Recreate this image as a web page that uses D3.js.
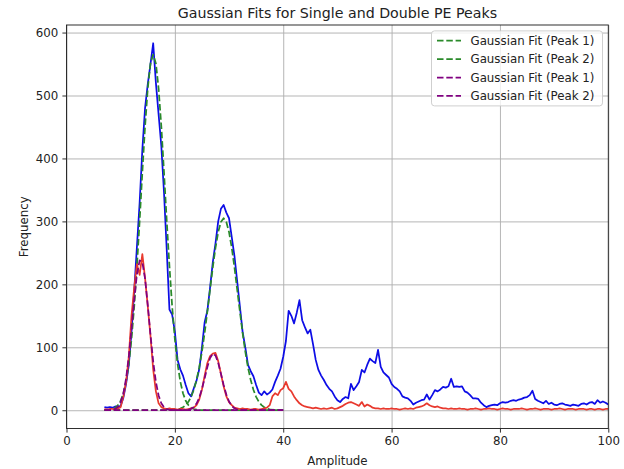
<!DOCTYPE html>
<html>
<head>
<meta charset="utf-8">
<script src="https://cdn.jsdelivr.net/npm/d3@7"></script>
<style>
  body { margin: 0; background: #fff; }
  text { font-family: "DejaVu Sans", sans-serif; fill: #222; }
</style>
</head>
<body>
<svg id="chart" width="624" height="469"></svg>
<script>
// histogram bins: amplitude 7 .. 100, bin width 0.5
var binStart = 7;
var binStep = 0.5;

// all events (blue)
var countsAll = [
  5,4,5,4,6,5,7,20,42,72,            // 7.0
  125,190,260,330,414,480,518,550,583,520,   // 12.0
  470,420,345,255,160,152,125,80,65,55,      // 17.0
  40,27,22,35,47,65,100,140,158,195,         // 22.0
  235,265,300,320,326,314,305,275,245,205,   // 27.0
  165,125,100,72,62,54,40,28,24,30,          // 32.0
  25,28,33,45,55,66,85,110,158,150,          // 37.0
  138,155,175,143,132,122,128,105,80,64,     // 42.0
  55,48,40,34,30,22,16,13,18,21,             // 47.0
  19,42,32,38,45,64,60,72,82,78,             // 52.0
  75,96,69,60,56,52,42,37,34,30,             // 57.0
  22,20,19,15,9,12,14,16,17,25,              // 62.0
  17,24,32,30,33,37,36,38,50,37,             // 67.0
  38,37,38,30,28,24,19,19,18,12,             // 72.0
  8,5,7,8,9,8,11,13,12,13,                   // 77.0
  15,16,15,17,18,20,21,24,31,18,             // 82.0
  15,13,11,15,10,12,9,8,10,11,               // 87.0
  9,8,7,9,8,7,10,11,9,12,                    // 92.0
  13,10,16,12,14,12,9                        // 97.0
];

// selected events (red)
var countsSel = [
  2,1,2,2,1,3,5,22,45,85,
  150,195,232,215,248,210,165,118,65,30,
  11,5,3,2,3,2,2,1,2,2,
  1,2,3,4,8,17,33,55,75,86,
  90,91,78,58,38,22,13,8,4,3,
  2,3,2,2,1,2,2,1,2,3,
  4,8,22,27,24,32,35,45,34,30,
  22,16,11,8,6,5,4,3,4,3,
  2,3,2,3,4,2,3,5,7,10,
  12,13,11,9,7,13,6,9,7,4,
  3,3,2,3,2,2,3,2,2,1,
  2,3,2,3,2,4,5,6,8,11,
  8,6,5,6,4,3,3,2,3,2,
  2,3,2,2,1,2,2,3,2,1,
  2,2,3,2,2,1,2,3,2,2,
  1,2,2,2,3,2,1,2,2,3,
  2,1,2,2,2,1,2,2,3,2,
  1,2,2,2,1,2,2,2,1,2,
  2,1,2,2,1,2,2
];

// fitted curves, sampled 7 .. 40 every 0.5
var fitStart = 7;
var fitStep = 0.5;

var fitAllPeak1 = [
  0.2,0.4,0.9,2.0,4.1,8.1,15.1,27,45.8,73.8,
  113,165,229,301,378,451,511,551,565,551,
  511,451,378,301,229,165,113,73.8,45.8,27,
  15.1,8.1,4.1,2.0,0.9,0.4,0.2,0.1,0,0,
  0,0,0,0,0,0,0,0,0,0,
  0,0,0,0,0,0,0,0,0,0,
  0,0,0,0,0,0,0
];
var fitAllPeak2 = [
  0,0,0,0,0,0,0,0,0,0,
  0,0,0,0,0,0,0,0,0,0,
  0,0,0,0.1,0.2,0.4,0.8,1.5,2.7,4.8,
  8.1,13.4,21.3,32.5,48,68,93,123,157,192,
  227,258,283,299,305,299,283,258,227,192,
  157,123,93,68,48,32.5,21.3,13.4,8.1,4.8,
  2.7,1.5,0.8,0.4,0.2,0.1,0
];
var fitSelPeak1 = [
  0,0.1,0.2,0.8,2.1,5.5,12.9,26.9,50.6,85.4,
  129,176,216,238,235,209,167,120,77.5,45,
  23.4,11,4.6,1.8,0.6,0.2,0,0,0,0,
  0,0,0,0,0,0,0,0,0,0,
  0,0,0,0,0,0,0,0,0,0,
  0,0,0,0,0,0,0,0,0,0,
  0,0,0,0,0,0,0
];
var fitSelPeak2 = [
  0,0,0,0,0,0,0,0,0,0,
  0,0,0,0,0,0,0,0,0,0,
  0,0,0,0,0,0,0,0,0,0,
  0.3,0.8,2.1,5.0,10.6,20,33.8,50.9,68.8,83.1,
  89.8,86.9,75.2,58.2,40.3,25,13.9,6.9,3.1,1.2,
  0.4,0.1,0,0,0,0,0,0,0,0,
  0,0,0,0,0,0,0
];

var xTicks = [0, 20, 40, 60, 80, 100];
var yTicks = [0, 100, 200, 300, 400, 500, 600];
var legendLabels = ["Gaussian Fit (Peak 1)", "Gaussian Fit (Peak 2)", "Gaussian Fit (Peak 1)", "Gaussian Fit (Peak 2)"];

var svg = d3.select("#chart");
var pLeft = 66.5, pRight = 608.3, pTop = 25, pBottom = 428.5;

var x = d3.scaleLinear().domain([0, 100]).range([pLeft, pRight]);
var y = d3.scaleLinear().domain([-29, 612]).range([pBottom, pTop]);

function toPoints(values, start, step) {
  return values.map(function(v, i) { return [start + i * step, v]; });
}

//grid
svg.append("g")
  .attr("transform", "translate(0," + pBottom + ")")
  .call(d3.axisBottom(x).tickValues(xTicks).tickSize(-(pBottom - pTop)).tickFormat(""))
  .call(function(g) { g.select(".domain").remove(); })
  .selectAll("line").attr("stroke", "#b0b0b0").attr("stroke-width", 0.94);

svg.append("g")
  .attr("transform", "translate(" + pLeft + ",0)")
  .call(d3.axisLeft(y).tickValues(yTicks).tickSize(-(pRight - pLeft)).tickFormat(""))
  .call(function(g) { g.select(".domain").remove(); })
  .selectAll("line").attr("stroke", "#b0b0b0").attr("stroke-width", 0.94);

svg.append("clipPath").attr("id", "plotArea")
  .append("rect")
  .attr("x", pLeft).attr("y", pTop)
  .attr("width", pRight - pLeft).attr("height", pBottom - pTop);

var line = d3.line()
  .x(function(d) { return x(d[0]); })
  .y(function(d) { return y(d[1]); });

var plot = svg.append("g").attr("clip-path", "url(#plotArea)");

var series = [
  { pts: toPoints(countsAll, binStart, binStep), color: "#0d0de6", dash: null },
  { pts: toPoints(fitAllPeak1, fitStart, fitStep), color: "#2a8a2a", dash: "6.5,2.8" },
  { pts: toPoints(fitAllPeak2, fitStart, fitStep), color: "#2a8a2a", dash: "6.5,2.8" },
  { pts: toPoints(countsSel, binStart, binStep), color: "#e8392e", dash: null },
  { pts: toPoints(fitSelPeak1, fitStart, fitStep), color: "#800080", dash: "6.5,2.8" },
  { pts: toPoints(fitSelPeak2, fitStart, fitStep), color: "#800080", dash: "6.5,2.8" }
];

series.forEach(function(s) {
  plot.append("path")
    .attr("d", line(s.pts))
    .attr("fill", "none")
    .attr("stroke", s.color)
    .attr("stroke-width", 1.75)
    .attr("stroke-linejoin", "round")
    .attr("stroke-dasharray", s.dash);
});

//axes
var xAxis = svg.append("g")
  .attr("transform", "translate(0," + pBottom + ")")
  .call(d3.axisBottom(x).tickValues(xTicks).tickSize(4.1).tickPadding(4.1));
var yAxis = svg.append("g")
  .attr("transform", "translate(" + pLeft + ",0)")
  .call(d3.axisLeft(y).tickValues(yTicks).tickSize(4.1).tickPadding(4.1));

[xAxis, yAxis].forEach(function(g) {
  g.select(".domain").remove();
  g.selectAll("line").attr("stroke", "#222").attr("stroke-width", 0.94);
  g.selectAll("text")
    .style("font-size", "11.8px")
    .style("font-family", "'DejaVu Sans', sans-serif")
    .attr("fill", "#222");
});

svg.append("rect")
  .attr("x", pLeft).attr("y", pTop)
  .attr("width", pRight - pLeft).attr("height", pBottom - pTop)
  .attr("fill", "none")
  .attr("stroke", "#222")
  .attr("stroke-width", 0.94);

//labels
svg.append("text")
  .attr("x", (pLeft + pRight) / 2)
  .attr("y", 18)
  .attr("text-anchor", "middle")
  .style("font-size", "14.2px")
  .text("Gaussian Fits for Single and Double PE Peaks");

svg.append("text")
  .attr("x", (pLeft + pRight) / 2)
  .attr("y", 465)
  .attr("text-anchor", "middle")
  .style("font-size", "11.8px")
  .text("Amplitude");

svg.append("text")
  .attr("transform", "translate(28," + ((pTop + pBottom) / 2) + ") rotate(-90)")
  .attr("text-anchor", "middle")
  .style("font-size", "11.8px")
  .text("Frequency");

//legenda
var legend = svg.append("g");
legend.append("rect")
  .attr("x", 431.5).attr("y", 30.9)
  .attr("width", 171).attr("height", 75)
  .attr("rx", 3)
  .attr("fill", "white").attr("fill-opacity", 0.8)
  .attr("stroke", "#cccccc").attr("stroke-width", 0.94);

var legendColors = ["#2a8a2a", "#2a8a2a", "#800080", "#800080"];
legendLabels.forEach(function(label, i) {
  var cy = 40.7 + i * 18.4;
  legend.append("line")
    .attr("x1", 437).attr("x2", 461)
    .attr("y1", cy).attr("y2", cy)
    .attr("stroke", legendColors[i])
    .attr("stroke-width", 1.75)
    .attr("stroke-dasharray", "6.5,2.8");
  legend.append("text")
    .attr("x", 470.5)
    .attr("y", cy + 4.2)
    .style("font-size", "11.8px")
    .text(label);
});
</script>
</body>
</html>
